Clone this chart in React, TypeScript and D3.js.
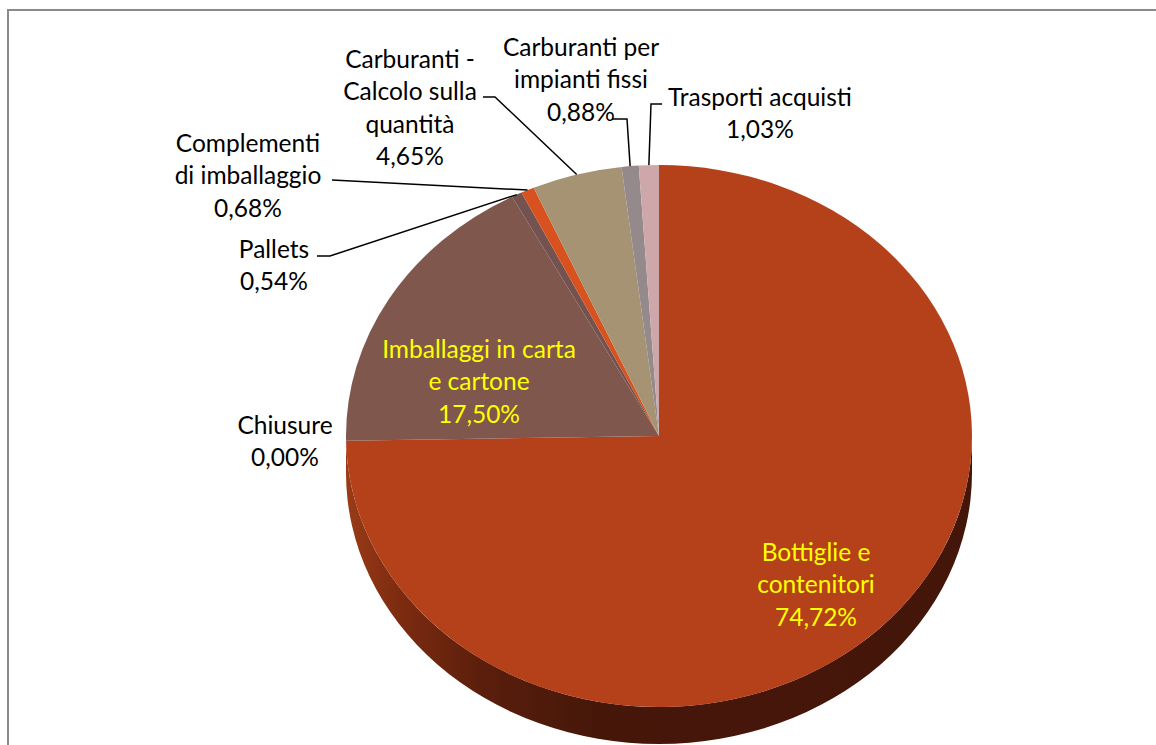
import React from "react";
import * as d3 from "d3";

const categories = [
  "Bottiglie e contenitori",
  "Chiusure",
  "Imballaggi in carta e cartone",
  "Pallets",
  "Complementi di imballaggio",
  "Carburanti - Calcolo sulla quantità",
  "Carburanti per impianti fissi",
  "Trasporti acquisti",
];
const values = [74.72, 0.0, 17.5, 0.54, 0.68, 4.65, 0.88, 1.03];
const labelLines = [
  ["Bottiglie e", "contenitori"],
  ["Chiusure"],
  ["Imballaggi in carta", "e cartone"],
  ["Pallets"],
  ["Complementi", "di imballaggio"],
  ["Carburanti -", "Calcolo sulla", "quantità"],
  ["Carburanti per", "impianti fissi"],
  ["Trasporti acquisti"],
];
const colors = ["#b5411a", "#8a8a8a", "#7f574c", "#73524f", "#d8521f", "#a69373", "#948a8b", "#cea7aa"];

// layout (label anchor: center x, first line center y; leader elbow points)
const labelLayout: { x: number; y: number; fill: string; leader: [number, number][] | null }[] = [
  { x: 816, y: 551, fill: "#ffff00", leader: null },
  { x: 285, y: 424, fill: "#000000", leader: null },
  { x: 479, y: 348, fill: "#ffff00", leader: null },
  { x: 274, y: 248, fill: "#000000", leader: [[317, 256], [330, 256]] },
  { x: 248, y: 142, fill: "#000000", leader: [[332, 180]] },
  { x: 410, y: 58, fill: "#000000", leader: [[483, 97], [495, 97]] },
  { x: 581, y: 46, fill: "#000000", leader: [[612, 119], [627, 119]] },
  { x: 760, y: 96, fill: "#000000", leader: [[662, 104], [651, 104]] },
];

const W = 1156;
const H = 745;
const cx = 659;
const cy = 436;
const rx = 313;
const ry = 271;
const depth = 37;
const lineH = 32.5;

const fmt = d3.formatLocale({ decimal: ",", thousands: ".", grouping: [3], currency: ["€", ""] }).format(".2f");

export default function App() {
  const arcs = d3.pie<number>().sort(null).value((d) => d)(values);
  const arcGen = d3.arc<d3.PieArcDatum<number>>().innerRadius(0).outerRadius(rx);
  const proj = (a: number) => [cx + rx * Math.sin(a), cy - ry * Math.cos(a)];

  const wall = `M${cx + rx},${cy} A${rx},${ry} 0 0 1 ${cx - rx},${cy} L${cx - rx},${cy + depth} A${rx},${ry} 0 0 0 ${cx + rx},${cy + depth} Z`;

  return (
    <svg width={W} height={H} style={{ position: "absolute", left: 0, top: 0 }} fontFamily="Lato, 'Noto Sans', sans-serif">
      <defs>
        <linearGradient id="wallG" gradientUnits="userSpaceOnUse" x1={cx - rx} x2={cx + rx} y1={0} y2={0}>
          <stop offset="0%" stopColor="#9a3b17" />
          <stop offset="8%" stopColor="#7e2c10" />
          <stop offset="22%" stopColor="#5a1e0c" />
          <stop offset="40%" stopColor="#461709" />
          <stop offset="100%" stopColor="#441609" />
        </linearGradient>
      </defs>
      <rect x={0} y={0} width={W} height={H} fill="#ffffff" />
      <path d={`M8,${H} L8,10 L${W},10`} fill="none" stroke="#8a8a8a" strokeWidth={2} />
      <path d={wall} fill="url(#wallG)" />
      <g transform={`translate(${cx},${cy}) scale(1,${ry / rx})`}>
        {arcs.map((a, i) => (
          <path key={categories[i]} d={arcGen(a) || ""} fill={colors[i]} />
        ))}
      </g>
      {arcs.map((a, i) => {
        const L = labelLayout[i];
        if (!L.leader) return null;
        const mid = (a.startAngle + a.endAngle) / 2;
        const pts = [...L.leader, proj(mid)] as [number, number][];
        return <path key={"l" + i} d={d3.line()(pts) || ""} fill="none" stroke="#000" strokeWidth={1.5} />;
      })}
      {arcs.map((a, i) => {
        const L = labelLayout[i];
        const lines = [...labelLines[i], fmt(values[i]) + "%"];
        return (
          <text key={"t" + i} textAnchor="middle" fontSize={24.5} fill={L.fill}>
            {lines.map((s, j) => (
              <tspan key={j} x={L.x} y={L.y + j * lineH} dominantBaseline="central">
                {s}
              </tspan>
            ))}
          </text>
        );
      })}
    </svg>
  );
}
